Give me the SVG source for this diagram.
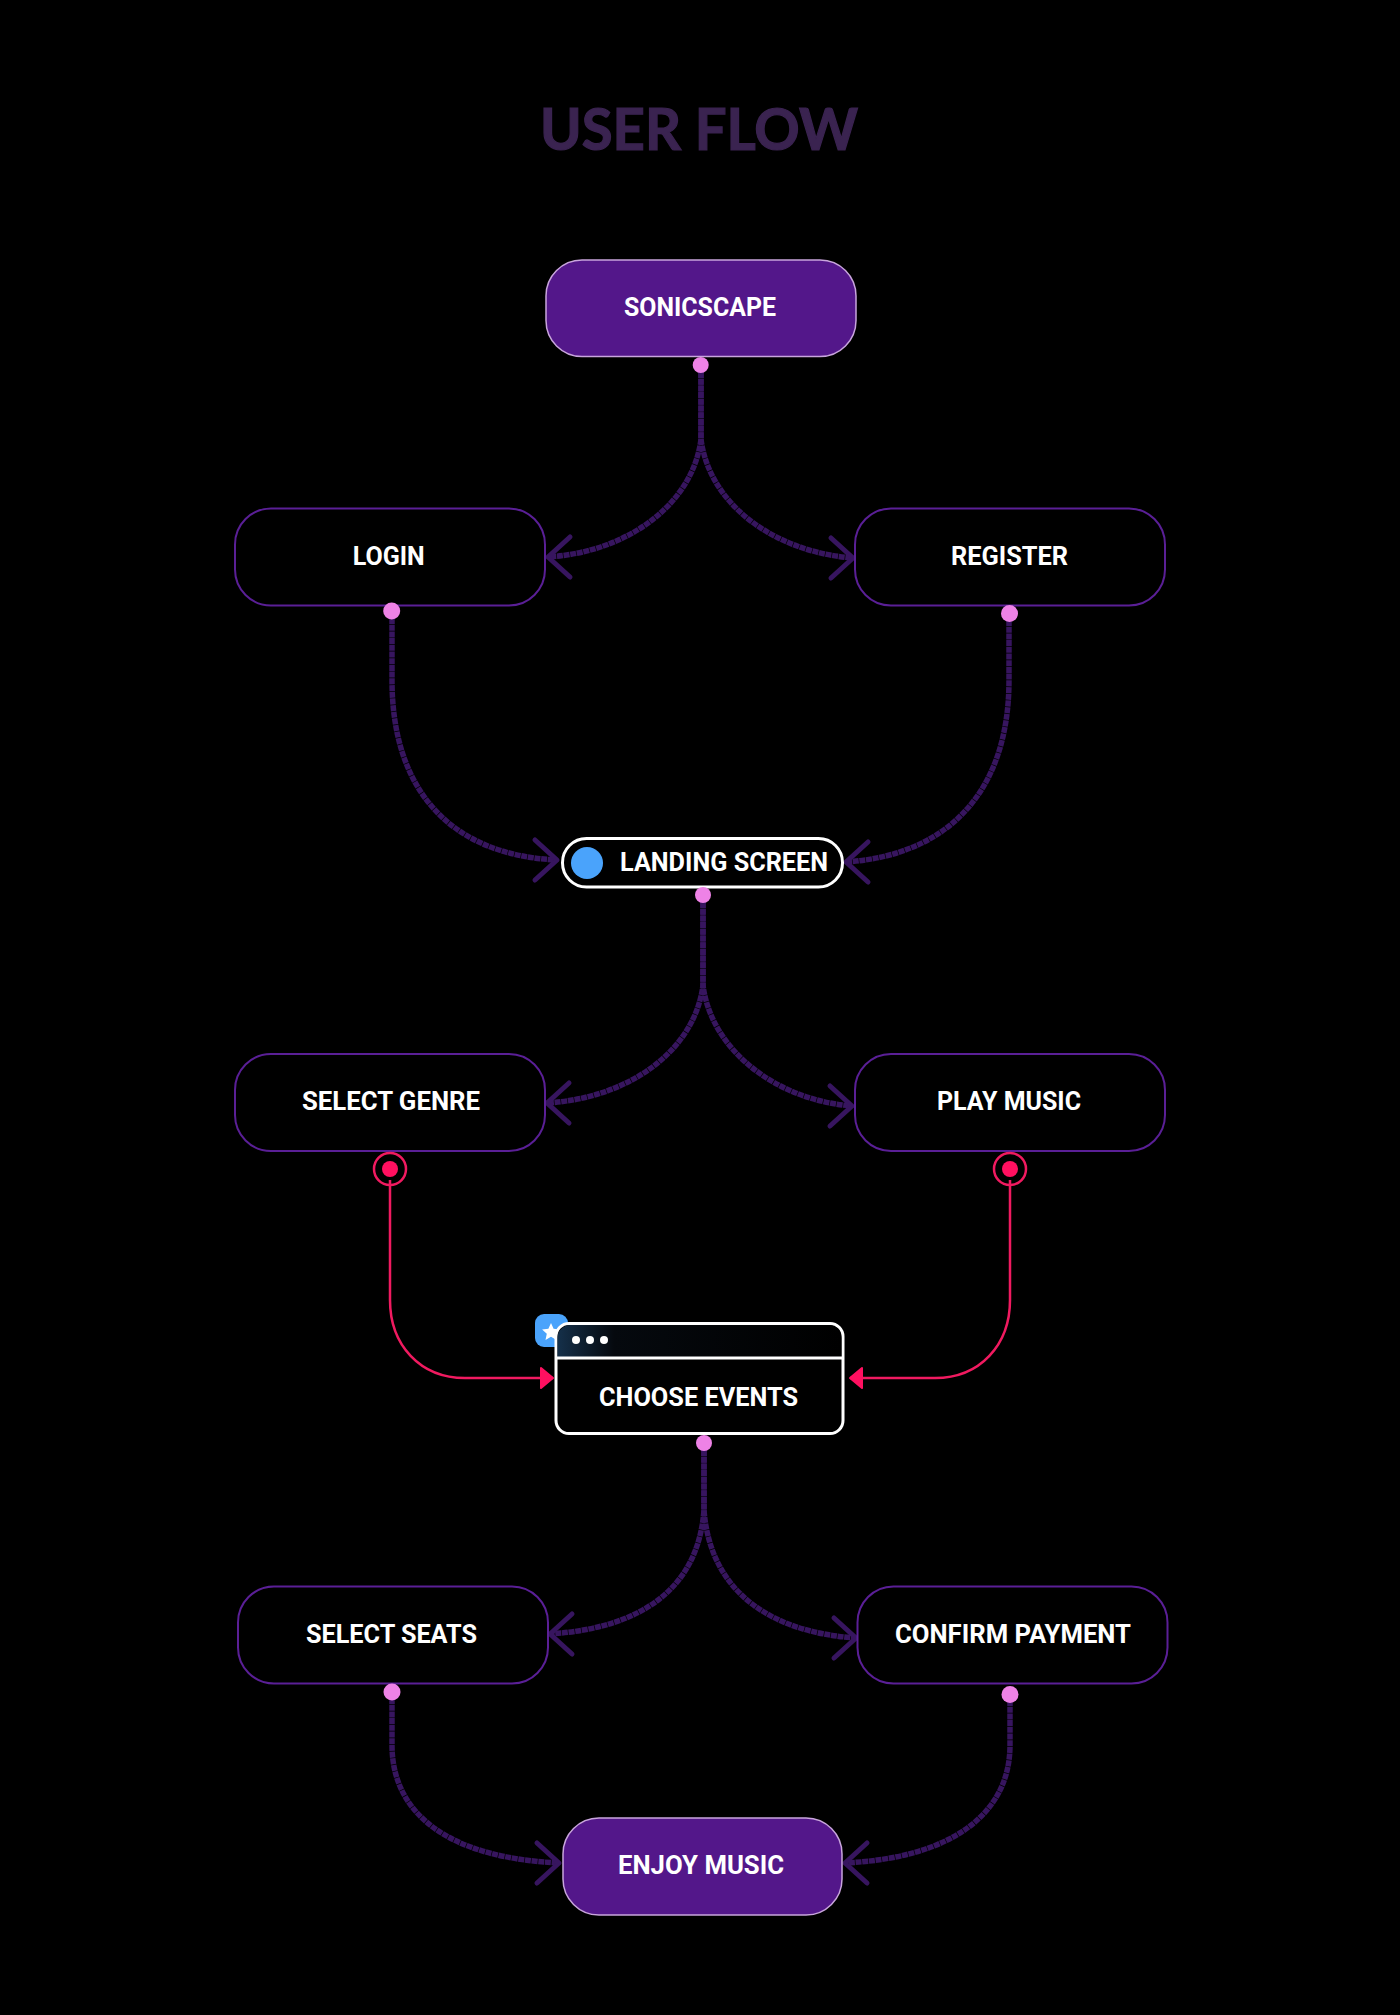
<svg xmlns="http://www.w3.org/2000/svg" width="1400" height="2015" viewBox="0 0 1400 2015">
<style>
.lbl{font-family:"Roboto","Liberation Sans",sans-serif;font-weight:700;font-size:25px;fill:#fff}
.title{font-family:"Lato","Noto Sans",sans-serif;font-weight:700;font-size:57px;fill:#3a2350;stroke:#3a2350;stroke-width:1.2px}
.box{fill:#000;stroke:#5a1f96;stroke-width:2}
.hero{fill:#53178a;stroke:#c9a5dd;stroke-width:1.5}
.wh{fill:#000;stroke:#fff;stroke-width:3}
.dot{fill:#ee82e6}
.flow{fill:none;stroke:#37155f;stroke-width:5.500;stroke-dasharray:6 .7}
.hot{fill:none;stroke:#f01a60;stroke-width:2.5}
.hotf{fill:#ff1060}
</style>
<defs>
<marker id="arrR" markerUnits="userSpaceOnUse" markerWidth="32" markerHeight="52" refX="28" refY="26" orient="0"><path d="M6 6L28 26L6 46" fill="none" stroke="#37155f" stroke-width="5" stroke-linecap="round" stroke-linejoin="round"/></marker>
<marker id="arrL" markerUnits="userSpaceOnUse" markerWidth="32" markerHeight="52" refX="4" refY="26" orient="0"><path d="M26 6L4 26L26 46" fill="none" stroke="#37155f" stroke-width="5" stroke-linecap="round" stroke-linejoin="round"/></marker>
<marker id="triR" markerUnits="userSpaceOnUse" markerWidth="16" markerHeight="26" refX="14" refY="13" orient="0"><path d="M2 3L14 13L2 23Z" fill="#ff1060" stroke="#ff1060" stroke-width="2" stroke-linejoin="round"/></marker>
<marker id="triL" markerUnits="userSpaceOnUse" markerWidth="16" markerHeight="26" refX="2" refY="13" orient="0"><path d="M14 3L2 13L14 23Z" fill="#ff1060" stroke="#ff1060" stroke-width="2" stroke-linejoin="round"/></marker>
<linearGradient id="hdr" x1="0" x2="1" y1="0" y2="0"><stop offset="0" stop-color="#15304a"/><stop offset="0.2" stop-color="#05090e"/><stop offset="1" stop-color="#000"/></linearGradient>
</defs>
<rect width="1400" height="2015" fill="#000"/>
<text id="title" class="title" x="540" y="150" textLength="318" lengthAdjust="spacingAndGlyphs">USER FLOW</text>

<g id="connectors">
<path class="flow" d="M701 372V439C693 504 628 552 548 557" marker-end="url(#arrL)"/>
<path class="flow" d="M701 372V439C709 504 774 552 853 558" marker-end="url(#arrR)"/>
<path class="flow" d="M392 618V680C392 790 450 855 557 860" marker-end="url(#arrR)"/>
<path class="flow" d="M1009 620V680C1009 790 950 855 846 862" marker-end="url(#arrL)"/>
<path class="flow" d="M703 902V985C695 1050 630 1098 547 1103" marker-end="url(#arrL)"/>
<path class="flow" d="M703 902V985C711 1050 776 1100 852 1106" marker-end="url(#arrR)"/>
<path class="flow" d="M704 1450V1510C698 1590 640 1628 550 1634" marker-end="url(#arrL)"/>
<path class="flow" d="M704 1450V1510C710 1590 768 1632 856 1638" marker-end="url(#arrR)"/>
<path class="flow" d="M392 1698V1745C392 1815 450 1858 559 1863" marker-end="url(#arrR)"/>
<path class="flow" d="M1010 1700V1745C1010 1815 950 1858 845 1863" marker-end="url(#arrL)"/>
<path class="hot" d="M390 1180V1300C390 1345 420 1378 465 1378H553" marker-end="url(#triR)"/>
<path class="hot" d="M1010 1180V1300C1010 1345 980 1378 935 1378H850" marker-end="url(#triL)"/>
</g>

<g id="n-sonicscape">
<rect class="hero" x="546" y="260" width="310" height="96.500" rx="36"/>
<text class="lbl" x="624" y="316" textLength="152" lengthAdjust="spacingAndGlyphs">SONICSCAPE</text>
<circle class="dot" cx="700.700" cy="365" r="8"/>
</g>
<g id="n-login">
<rect class="box" x="235" y="508.500" width="310" height="97" rx="36"/>
<text class="lbl" x="352.700" y="565" textLength="72" lengthAdjust="spacingAndGlyphs">LOGIN</text>
<circle class="dot" cx="391.700" cy="611" r="8.500"/>
</g>
<g id="n-register">
<rect class="box" x="855" y="508.500" width="310" height="97" rx="36"/>
<text class="lbl" x="951" y="565" textLength="117" lengthAdjust="spacingAndGlyphs">REGISTER</text>
<circle class="dot" cx="1009.500" cy="613.500" r="8.500"/>
</g>
<g id="n-landing">
<rect class="wh" x="562.500" y="838.500" width="280" height="48.500" rx="24"/>
<circle cx="587" cy="863" r="16" fill="#4aa3fb"/>
<text class="lbl" x="620" y="871" textLength="208" lengthAdjust="spacingAndGlyphs">LANDING SCREEN</text>
<circle class="dot" cx="703" cy="895" r="8"/>
</g>
<g id="n-genre">
<rect class="box" x="235" y="1054" width="310" height="97" rx="36"/>
<text class="lbl" x="302" y="1110" textLength="178" lengthAdjust="spacingAndGlyphs">SELECT GENRE</text>
<circle cx="390" cy="1169" r="16" fill="none" stroke="#f01a60" stroke-width="2.500"/>
<circle class="hotf" cx="390" cy="1169" r="8"/>
</g>
<g id="n-play">
<rect class="box" x="855" y="1054" width="310" height="97" rx="36"/>
<text class="lbl" x="937" y="1110" textLength="144" lengthAdjust="spacingAndGlyphs">PLAY MUSIC</text>
<circle cx="1010" cy="1169" r="16" fill="none" stroke="#f01a60" stroke-width="2.500"/>
<circle class="hotf" cx="1010" cy="1169" r="8"/>
</g>
<g id="n-events">
<rect x="535" y="1314" width="33" height="33" rx="9" fill="#4aa3fb"/>
<path d="M551 1323l2.600 5.800 6.300.700-4.700 4.200 1.300 6.200-5.500-3.200-5.500 3.200 1.300-6.200-4.700-4.200 6.300-.700z" fill="#fff"/>
<rect class="wh" x="556" y="1323.500" width="287" height="110" rx="13"/>
<path d="M557.500 1357V1338a13 13 0 0 1 13-13H828.500a13 13 0 0 1 13 13V1357Z" fill="url(#hdr)"/>
<path d="M556 1358H843" stroke="#fff" stroke-width="3"/>
<circle cx="576" cy="1340" r="4" fill="#fff"/><circle cx="590" cy="1340" r="4" fill="#fff"/><circle cx="604" cy="1340" r="4" fill="#fff"/>
<text class="lbl" x="599" y="1406" textLength="199" lengthAdjust="spacingAndGlyphs">CHOOSE EVENTS</text>
<circle class="dot" cx="704" cy="1443" r="8"/>
</g>
<g id="n-seats">
<rect class="box" x="238" y="1586.500" width="310" height="97" rx="36"/>
<text class="lbl" x="306" y="1643" textLength="171" lengthAdjust="spacingAndGlyphs">SELECT SEATS</text>
<circle class="dot" cx="392" cy="1692" r="8.500"/>
</g>
<g id="n-confirm">
<rect class="box" x="857.500" y="1586.500" width="310" height="97" rx="36"/>
<text class="lbl" x="895" y="1643" textLength="236" lengthAdjust="spacingAndGlyphs">CONFIRM PAYMENT</text>
<circle class="dot" cx="1010" cy="1694.500" r="8.500"/>
</g>
<g id="n-enjoy">
<rect class="hero" x="563" y="1818" width="279" height="97" rx="36"/>
<text class="lbl" x="618" y="1874" textLength="166" lengthAdjust="spacingAndGlyphs">ENJOY MUSIC</text>
</g>
</svg>
